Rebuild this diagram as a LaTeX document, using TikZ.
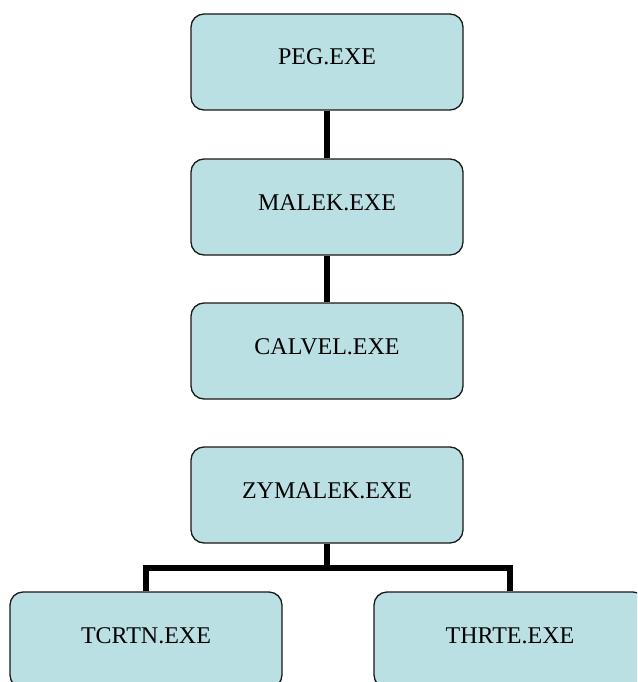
\documentclass[tikz,border=0pt]{standalone}
\usepackage{fontspec}
\setmainfont{Liberation Serif}
\usetikzlibrary{calc}
\begin{document}
\begin{tikzpicture}[x=1pt,y=-1pt,
  filebox/.style={draw=black!90, line width=1.3pt, fill=boxfill,
    rounded corners=13pt, minimum width=272pt, minimum height=96pt,
    inner sep=0pt, text height=16pt, text depth=0pt,
    font=\fontsize{24}{28}\selectfont},
  link/.style={line width=6pt, black}]
  \definecolor{boxfill}{HTML}{BBE0E3}
  \useasboundingbox (0,0) rectangle (637,682);
  \clip (0,0) rectangle (637,682);

  % upper chain
  \node[filebox] (peg)    at (327,62)  {\raisebox{5pt}{PEG.EXE}};
  \node[filebox] (malek)  at (327,207) {\raisebox{5pt}{MALEK.EXE}};
  \node[filebox] (calvel) at (327,351) {\raisebox{5pt}{CALVEL.EXE}};

  % lower tree
  \node[filebox] (zym)   at (327,495) {\raisebox{5pt}{ZYMALEK.EXE}};
  \node[filebox] (tcrtn) at (146,640) {\raisebox{5pt}{TCRTN.EXE}};
  \node[filebox] (thrte) at (510,640) {\raisebox{5pt}{THRTE.EXE}};

  % connectors
  \draw[link] (peg.south) -- (malek.north);
  \draw[link] (malek.south) -- (calvel.north);
  \coordinate (fork) at ($(zym.south)+(0,24)$);
  \draw[link] (zym.south) -- (fork);
  \draw[link, line join=miter] (tcrtn.north) |- (fork) -| (thrte.north);
\end{tikzpicture}
\end{document}
